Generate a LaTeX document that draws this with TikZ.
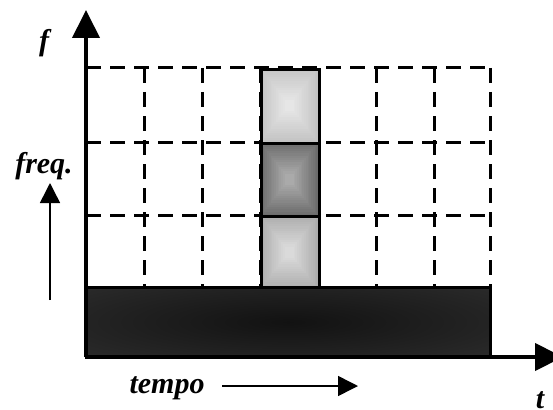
\documentclass[tikz,border=0pt]{standalone}
\usepackage{fontspec}
\setmainfont{Liberation Serif}
\usetikzlibrary{arrows.meta}

\tikzset{
  gridline/.style={line width=3pt, dash pattern=on 15pt off 9pt},
  axisline/.style={line width=4pt, -{Triangle[length=28pt,width=27pt]}},
  smallarrow/.style={line width=1.5pt, -{Triangle[length=20pt,width=20pt]}},
  cellframe/.style={draw=black, line width=3pt},
  lbl/.style={font=\fontsize{30}{32}\selectfont\bfseries\itshape, inner sep=0pt},
}

% nested rectangles shading a cell from its edge colour to a lighter centre
\newcommand{\bevelcell}[4]{% #1 = x left, #2 = y top, #3 = edge colour, #4 = centre colour
  \foreach \k in {0,...,14}{
    \pgfmathsetmacro{\mix}{100-\k*100/14}
    \pgfmathsetmacro{\dx}{\k*1.75}
    \pgfmathsetmacro{\dy}{\k*2.25}
    \fill[#3!\mix!#4] (#1+\dx,#2+\dy) rectangle (#1+58-\dx,#2+74-\dy);
  }
}

\begin{document}
\begin{tikzpicture}[x=1pt,y=-1pt]
  \useasboundingbox (0,0) rectangle (553,409);
  \clip (0,0) rectangle (553,409);

  % dashed time-frequency grid
  \foreach \yy in {68,142,215}
    \draw[gridline] (86,\yy) -- (490,\yy);
  \foreach \xx in {144,202,260,318,376,434,490}
    \draw[gridline] (\xx,68) -- (\xx,287);

  % highlighted column of cells
  \definecolor{topedge}{HTML}{C4C4C4}
  \definecolor{topcentre}{HTML}{E6E6E6}
  \definecolor{midedge}{HTML}{6C6C6C}
  \definecolor{midcentre}{HTML}{AAAAAA}
  \definecolor{botedge}{HTML}{ADADAD}
  \definecolor{botcentre}{HTML}{DADADA}
  \bevelcell{260}{68}{topedge}{topcentre}
  \bevelcell{260}{142}{midedge}{midcentre}
  \bevelcell{260}{215}{botedge}{botcentre}
  \node[cellframe, minimum width=58pt, minimum height=74pt, inner sep=0pt, anchor=north west] (c1) at (260,68) {};
  \node[cellframe, minimum width=58pt, minimum height=73pt, inner sep=0pt, anchor=north west] (c2) at (260,142) {};
  \node[cellframe, minimum width=58pt, minimum height=72pt, inner sep=0pt, anchor=north west] (c3) at (260,215) {};

  % dark band along the time axis
  \definecolor{banddark}{HTML}{2C2C2C}
  \definecolor{bandcore}{HTML}{121212}
  \fill[banddark] (86,287) rectangle (490,357);
  \begin{scope}
    \clip (86,287) rectangle (490,357);
    \shade[inner color=bandcore, outer color=banddark] (288,322) ellipse (300 and 55);
  \end{scope}
  \draw[line width=3pt] (86,287) rectangle (490,357);

  % axes
  \coordinate (o) at (86,357);
  \coordinate (ftip) at (86,10);
  \coordinate (ttip) at (563,357);
  \draw[axisline] (o) -- (ftip);
  \draw[axisline] (o) -- (ttip);

  % labels and direction arrows
  \node[lbl] (flab) at (44,43) {f};
  \node[lbl] (freqlab) at (44,166) {freq.};
  \node[lbl] (tempolab) at (167,388) {tempo};
  \node[lbl] (tlab) at (540,400) {t};
  \coordinate (fa0) at (50,300);
  \coordinate (fa1) at (50,183);
  \draw[smallarrow] (fa0) -- (fa1);
  \coordinate (ta0) at (222,386);
  \coordinate (ta1) at (358,386);
  \draw[smallarrow] (ta0) -- (ta1);
\end{tikzpicture}
\end{document}
